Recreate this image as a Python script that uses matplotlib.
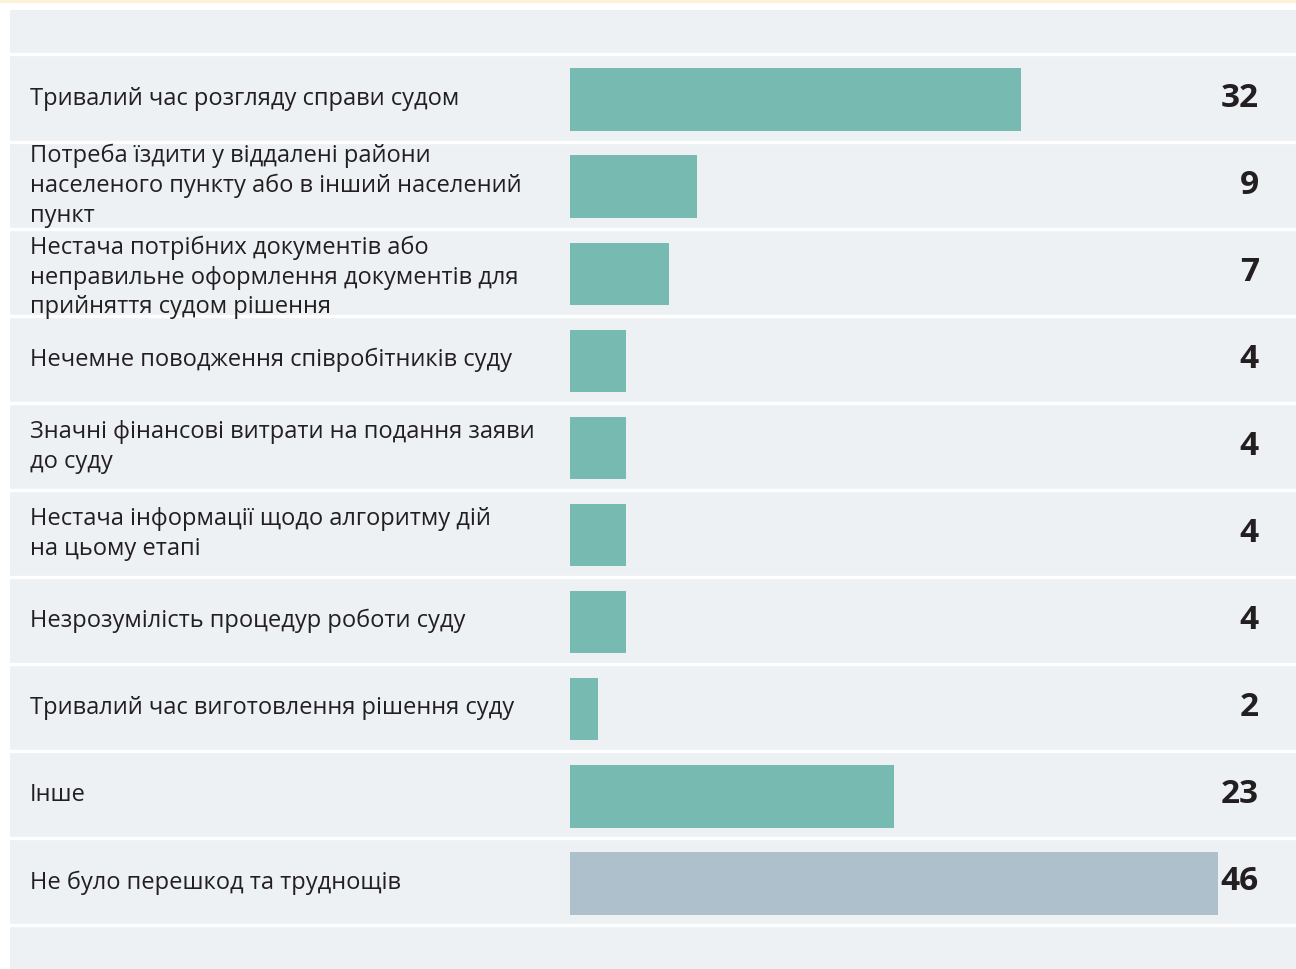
import matplotlib.pyplot as plt
from matplotlib.patches import Rectangle
from matplotlib.transforms import blended_transform_factory

# Перешкоди під час розгляду справи судом, %
labels = [
    "Тривалий час розгляду справи судом",
    "Потреба їздити у віддалені райони\nнаселеного пункту або в інший населений\nпункт",
    "Нестача потрібних документів або\nнеправильне оформлення документів для\nприйняття судом рішення",
    "Нечемне поводження співробітників суду",
    "Значні фінансові витрати на подання заяви\nдо суду",
    "Нестача інформації щодо алгоритму дій\nна цьому етапі",
    "Незрозумілість процедур роботи суду",
    "Тривалий час виготовлення рішення суду",
    "Інше",
    "Не було перешкод та труднощів",
]
values = [32, 9, 7, 4, 4, 4, 4, 2, 23, 46]

teal = "#77bab1"
grey_bar = "#adc0cb"
panel = "#edf1f4"
ink = "#231f20"
colors = [teal] * (len(values) - 1) + [grey_bar]

plt.rcParams['font.family'] = ['Open Sans', 'DejaVu Sans']

W, H = 1296, 969
fig = plt.figure(figsize=(W / 100, H / 100), dpi=100)
fig.patch.set_facecolor("white")

# жовта смужка зверху
fig.add_artist(Rectangle((0, 1 - 3 / H), 1, 3 / H, transform=fig.transFigure,
                         color="#fdf1d8", lw=0))

ax = fig.add_axes([10 / W, 0, 1286 / W, 959 / H])
ax.set_facecolor(panel)
ax.set_xlim(-39.77, 51.56)
ax.set_ylim(10.005, -1.011)
for s in ax.spines.values():
    s.set_visible(False)
ax.set_xticks([])
ax.set_yticks([])

n = len(values)
for b in range(n + 1):
    ax.axhline(b - 0.5, color="white", lw=2.4, zorder=1)

ax.barh([i + 0.02 for i in range(n)], values, height=0.72, color=colors,
        zorder=2)

# третій підпис у джерелі трохи нижчий і обрізаний рядком нижче
shift = {2: 0.05}

tr = blended_transform_factory(ax.transAxes, ax.transData)
for i, (lab, v) in enumerate(zip(labels, values)):
    clip = Rectangle((-39.77, i - 0.5 + 0.02), 91.33, 0.98,
                     transform=ax.transData)
    t = ax.text(0.0156, i + 0.01 + shift.get(i, 0), lab, transform=tr,
                ha="left", va="center", fontsize=17, color=ink,
                linespacing=1.32, zorder=3)
    t.set_clip_path(clip)
    ax.text(0.9712, i, str(v), transform=tr, ha="right", va="center",
            fontsize=24, fontweight="bold", color=ink, zorder=3)

fig.savefig("out.png", dpi=100)
